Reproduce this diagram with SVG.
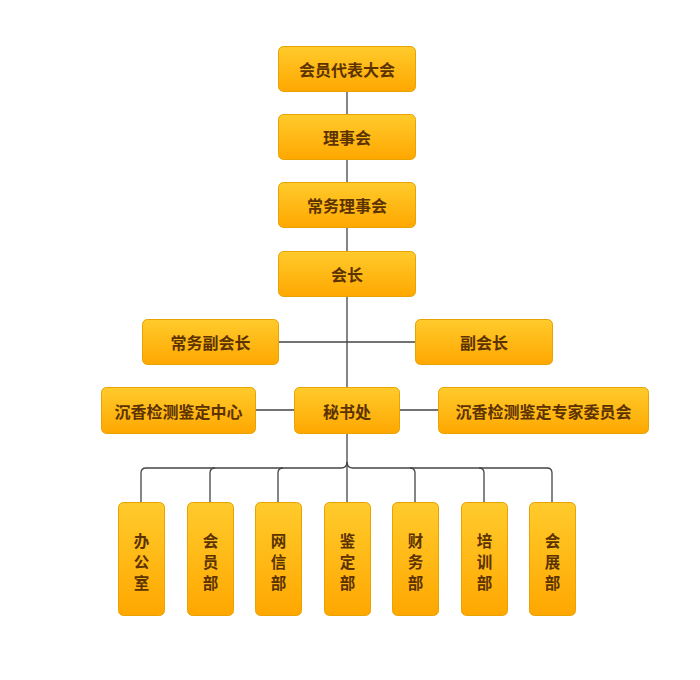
<svg xmlns="http://www.w3.org/2000/svg" width="700" height="680" viewBox="0 0 700 680">
<defs>
<linearGradient id="g" x1="0" y1="0" x2="0" y2="1">
<stop offset="0" stop-color="#FFCB2C"/>
<stop offset="1" stop-color="#FFA700"/>
</linearGradient>
<style>
.box{fill:url(#g);stroke:#E9A300;stroke-width:1}
.t{font-family:"Noto Sans CJK SC","Noto Sans",sans-serif;font-weight:bold;font-size:16px;fill:#5C3300;text-anchor:middle;dominant-baseline:central}
.v{font-family:"Noto Sans CJK SC","Noto Sans",sans-serif;font-weight:bold;font-size:15.5px;fill:#5C3300;text-anchor:middle;dominant-baseline:central}
.c{fill:none;stroke:#444;stroke-width:1.3}
</style>
</defs>
<rect width="700" height="680" fill="#fff"/>
<g id="connectors">
<path class="c" d="M347,91 V462"/>
<path class="c" d="M278,342 H415"/>
<path class="c" d="M255,410 H294 M399,410 H438"/>
<path class="c" d="M347,462 Q347,468 341,468 H146 Q141,468 141,473 V502"/>
<path class="c" d="M347,462 Q347,468 353,468 H547 Q552,468 552,473 V502"/>
<path class="c" d="M215,468 Q210,468 210,473 V502"/>
<path class="c" d="M283,468 Q278,468 278,473 V502"/>
<path class="c" d="M347,462 V502"/>
<path class="c" d="M410,468 Q415,468 415,473 V502"/>
<path class="c" d="M479,468 Q484,468 484,473 V502"/>
</g>
<g id="n1"><rect class="box" x="278.5" y="46.5" width="137" height="45" rx="5"/><text class="t" x="347" y="69">会员代表大会</text></g>
<g id="n2"><rect class="box" x="278.5" y="114.5" width="137" height="45" rx="5"/><text class="t" x="347" y="137">理事会</text></g>
<g id="n3"><rect class="box" x="278.5" y="182.5" width="137" height="45" rx="5"/><text class="t" x="347" y="205">常务理事会</text></g>
<g id="n4"><rect class="box" x="278.5" y="251.5" width="137" height="45" rx="5"/><text class="t" x="347" y="274">会长</text></g>
<g id="n5"><rect class="box" x="142.5" y="319.5" width="136" height="45" rx="5"/><text class="t" x="210.5" y="342">常务副会长</text></g>
<g id="n6"><rect class="box" x="415.5" y="319.5" width="137" height="45" rx="5"/><text class="t" x="484" y="342">副会长</text></g>
<g id="n7"><rect class="box" x="101.5" y="387.5" width="154" height="46" rx="5"/><text class="t" x="178.5" y="410.5">沉香检测鉴定中心</text></g>
<g id="n8"><rect class="box" x="294.5" y="387.5" width="105" height="46" rx="5"/><text class="t" x="347" y="410.5">秘书处</text></g>
<g id="n9"><rect class="box" x="438.5" y="387.5" width="210" height="46" rx="5"/><text class="t" x="543.5" y="410.5">沉香检测鉴定专家委员会</text></g>
<g id="b1"><rect class="box" x="118.5" y="502.5" width="46" height="113" rx="5"/><text class="v" x="141.5" y="540">办</text><text class="v" x="141.5" y="561">公</text><text class="v" x="141.5" y="582">室</text></g>
<g id="b2"><rect class="box" x="187.5" y="502.5" width="46" height="113" rx="5"/><text class="v" x="210.5" y="540">会</text><text class="v" x="210.5" y="561">员</text><text class="v" x="210.5" y="582">部</text></g>
<g id="b3"><rect class="box" x="255.5" y="502.5" width="46" height="113" rx="5"/><text class="v" x="278.5" y="540">网</text><text class="v" x="278.5" y="561">信</text><text class="v" x="278.5" y="582">部</text></g>
<g id="b4"><rect class="box" x="324.5" y="502.5" width="46" height="113" rx="5"/><text class="v" x="347.5" y="540">鉴</text><text class="v" x="347.5" y="561">定</text><text class="v" x="347.5" y="582">部</text></g>
<g id="b5"><rect class="box" x="392.5" y="502.5" width="46" height="113" rx="5"/><text class="v" x="415.5" y="540">财</text><text class="v" x="415.5" y="561">务</text><text class="v" x="415.5" y="582">部</text></g>
<g id="b6"><rect class="box" x="461.5" y="502.5" width="46" height="113" rx="5"/><text class="v" x="484.5" y="540">培</text><text class="v" x="484.5" y="561">训</text><text class="v" x="484.5" y="582">部</text></g>
<g id="b7"><rect class="box" x="529.5" y="502.5" width="46" height="113" rx="5"/><text class="v" x="552.5" y="540">会</text><text class="v" x="552.5" y="561">展</text><text class="v" x="552.5" y="582">部</text></g>
</svg>
